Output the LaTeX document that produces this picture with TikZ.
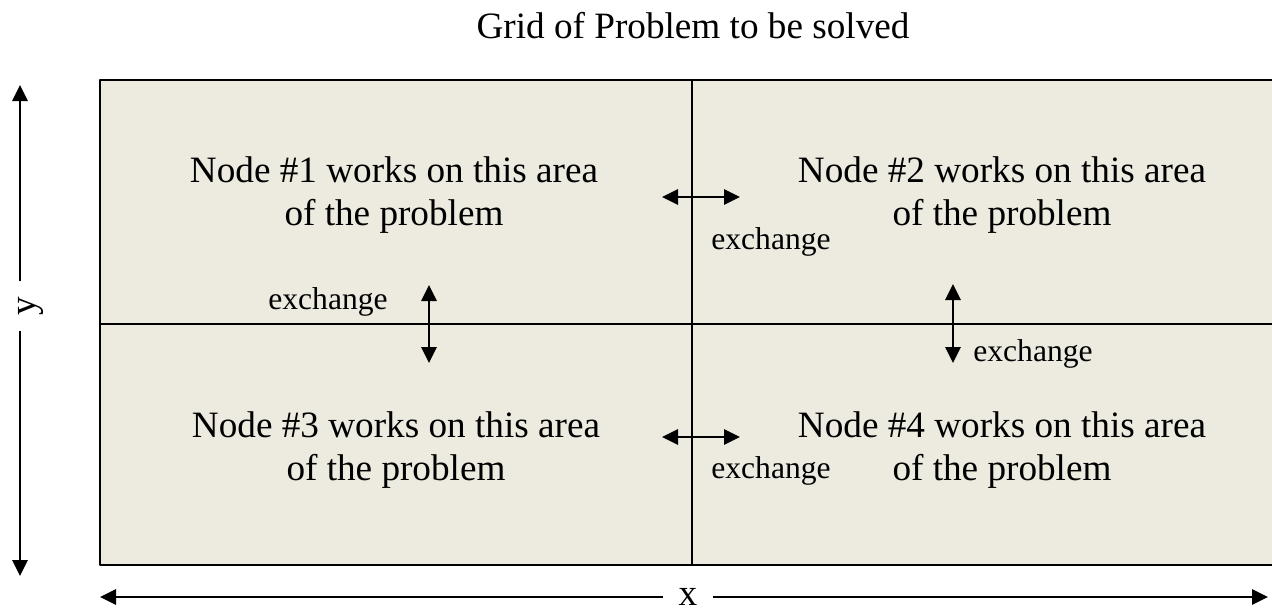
\documentclass[tikz,border=0pt]{standalone}
\usepackage{fontspec}
\setmainfont{Liberation Serif}
\usetikzlibrary{arrows.meta}
\definecolor{gridfill}{RGB}{237,234,224}
\tikzset{
  area/.style={align=center,font=\fontsize{18.6}{21.5}\selectfont},
  axislab/.style={font=\fontsize{18.6}{21.5}\selectfont,inner xsep=7.5pt,inner ysep=0pt},
  exlab/.style={font=\fontsize{15.8}{18}\selectfont,inner sep=0pt},
  swap/.style={{Triangle[length=8pt,width=7.5pt]}-{Triangle[length=8pt,width=7.5pt]},line width=1.4pt},
  axis/.style={-{Triangle[length=8pt,width=7.5pt]},line width=1.4pt},
}
\begin{document}
\begin{tikzpicture}[x=0.5pt,y=-0.5pt,line join=round]
    \useasboundingbox (0,0) rectangle (1272,611);
    \clip (0,0) rectangle (1272,611);
    % grid of the problem
    \draw[line width=1.3pt,fill=gridfill](100,80) rectangle (1284,565);
    \draw[line width=1.2pt](692,80)--(692,565);
    \draw[line width=1.2pt](100,324)--(1284,324);
    \node[area] (title) at (693,26) {Grid of Problem to be solved};
    % areas
    \node[area] (area1) at (394,195) {Node \#1 works on this area\\of the problem};
    \node[area] (area2) at (1002,195) {Node \#2 works on this area\\of the problem};
    \node[area] (area3) at (396,450) {Node \#3 works on this area\\of the problem};
    \node[area] (area4) at (1002,450) {Node \#4 works on this area\\of the problem};
    % exchanges
    \foreach \n/\xa/\ya/\xb/\yb/\lx/\ly in {12/662/197/740/197/771/242,34/662/437/740/437/771/471,13/429/285/429/363/328/302,24/953/284/953/363/1033/354}{%
      \coordinate (ex\n a) at (\xa,\ya);
      \coordinate (ex\n b) at (\xb,\yb);
      \draw[swap](ex\n a)--(ex\n b);
      \node[exlab] (exlab\n) at (\lx,\ly) {exchange};
    }
    % axes
    \node[axislab,rotate=90] (ylab) at (31,306) {y};
    \coordinate (ytop) at (20,85);
    \coordinate (ybot) at (20,576);
    \draw[axis](ylab.east-|ytop)--(ytop);
    \draw[axis](ylab.west-|ybot)--(ybot);
    \node[axislab] (xlab) at (688,597) {x};
    \coordinate (xleft) at (100,597);
    \coordinate (xright) at (1268,597);
    \draw[axis](xlab.west|-xleft)--(xleft);
    \draw[axis](xlab.east|-xright)--(xright);
  \end{tikzpicture}
\end{document}
